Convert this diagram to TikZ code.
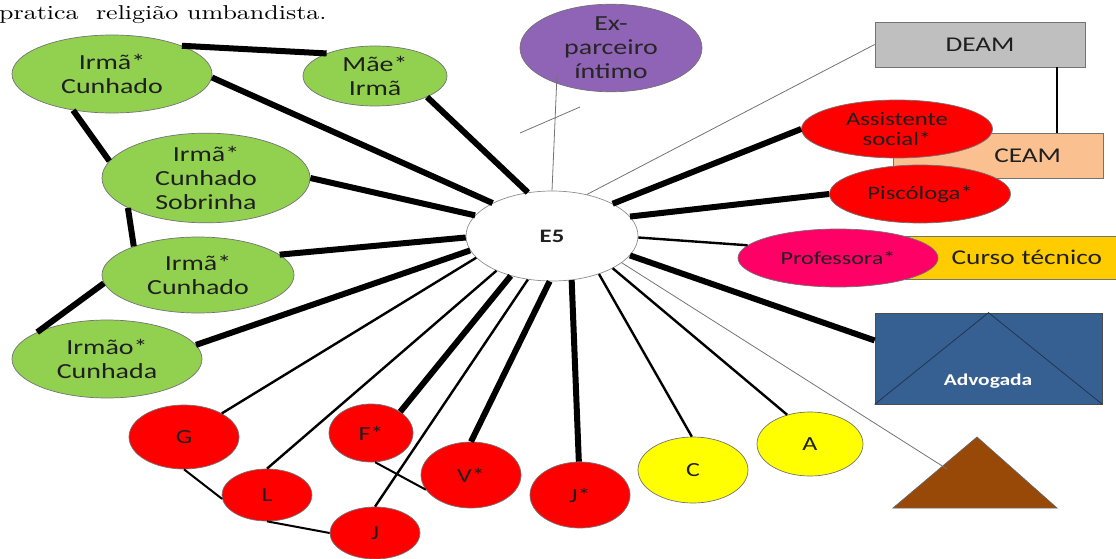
\documentclass[tikz,border=0pt]{standalone}
\usepackage{fontspec}
\newfontfamily\lbl[FakeStretch=1.3]{Carlito}
\newfontfamily\capfont[FakeStretch=1.3]{lmroman10-regular.otf}
\usetikzlibrary{shapes.geometric}

\definecolor{grn}{HTML}{92D050}
\definecolor{lilac}{HTML}{8F63B5}
\definecolor{rd}{HTML}{FF0000}
\definecolor{pinkred}{HTML}{FF0066}
\definecolor{yel}{HTML}{FFFF00}
\definecolor{amber}{HTML}{FFCC00}
\definecolor{peach}{HTML}{FAC090}
\definecolor{silver}{HTML}{BFBFBF}
\definecolor{advblue}{HTML}{376092}
\definecolor{navy}{HTML}{1F3550}
\definecolor{brownish}{HTML}{984807}

\tikzset{
  bub/.style={ellipse, draw=black!55, line width=0.7pt, inner sep=0pt,
    align=center, text=black!88, font=\lbl\fontsize{21.5}{24}\selectfont},
  small/.style={font=\lbl\fontsize{19}{20.5}\selectfont},
  letter/.style={font=\lbl\fontsize{20}{22}\selectfont},
  boxnode/.style={rectangle, draw=black!55, line width=0.7pt, inner sep=0pt,
    text=black!88, font=\lbl\fontsize{21}{24}\selectfont},
  heavy/.style={line width=6pt},
  mid/.style={line width=2.4pt},
  faint/.style={line width=0.8pt, draw=black!55},
}

\begin{document}
\begin{tikzpicture}[x=1pt,y=-1pt]
\useasboundingbox (0,0) rectangle (1116,559);

% caption line above the network
\node[anchor=base west, inner sep=0pt, font=\capfont\fontsize{20}{24}\selectfont] (title)
  at (-1,20) {pratica\ \ religião umbandista.};

% family (green)
\node[bub, fill=grn, minimum width=200pt, minimum height=78pt] (irmaA) at (112,74) {Irmã*\\Cunhado};
\node[bub, fill=grn, minimum width=144pt, minimum height=60pt] (mae) at (375,76) {Mãe*\\Irmã};
\node[bub, fill=grn, minimum width=208pt, minimum height=78pt] (sob) at (206,178) {Irmã*\\Cunhado\\Sobrinha};
\node[bub, fill=grn, minimum width=192pt, minimum height=76pt] (irmaB) at (198,275) {Irmã*\\Cunhado};
\node[bub, fill=grn, minimum width=190pt, minimum height=78pt] (irmao) at (107,359) {Irmão*\\Cunhada};

% former partner
\node[bub, fill=lilac, minimum width=182pt, minimum height=78pt, text=black!85] (ex) at (611,48) {Ex-\\parceiro\\íntimo};
\coordinate (exend) at (557,75);

% centre
\node[bub, fill=white, draw=black!45, minimum width=172pt, minimum height=90pt,
  font=\lbl\bfseries\fontsize{19}{22}\selectfont] (e5) at (552,236) {E5};

% institutions
\node[boxnode, fill=silver, minimum width=210pt, minimum height=45pt] (deam) at (980,44.5) {DEAM};
\node[boxnode, fill=peach, minimum width=210pt, minimum height=45pt, text width=200pt, align=right] (ceam) at (998,155.5) {CEAM\hspace*{37pt}};
\node[boxnode, fill=amber, minimum width=217pt, minimum height=43pt, text width=207pt, align=right] (curso) at (1013.5,257.5) {Curso técnico\hspace*{15pt}};

\node[bub, fill=rd, small, minimum width=191pt, minimum height=58pt] (assist) at (897,129) {Assistente\\social*};
\node[bub, fill=rd, small, minimum width=181pt, minimum height=58pt] (psico) at (920,194) {Piscóloga*};
\node[bub, fill=pinkred, font=\lbl\fontsize{18.5}{20}\selectfont, minimum width=200pt, minimum height=58pt] (prof) at (838,258) {Professora*};

% lawyer
\node[rectangle, draw=black!70, line width=0.7pt, fill=advblue, inner sep=0pt,
  minimum width=227pt, minimum height=91pt] (adv) at (988.5,358.5) {};
\draw[navy, line width=0.8pt] (adv.south west) -- (adv.north) -- (adv.south east);
\node[text=white, font=\lbl\bfseries\fontsize{16.5}{18}\selectfont] (advtext) at (988,381) {Advogada};

% religion
\draw[fill=brownish, draw=black!60, line width=0.7pt] (893,508) -- (977,437) -- (1057,508) -- cycle;
\coordinate (trimark) at (947,469);

% children and others
\node[bub, fill=rd, letter, minimum width=110pt, minimum height=64pt] (G) at (184,437) {G};
\node[bub, fill=rd, letter, minimum width=90pt, minimum height=52pt] (L) at (267,495) {L};
\node[bub, fill=rd, letter, minimum width=90pt, minimum height=52pt] (J) at (375,533) {J};
\node[bub, fill=rd, letter, minimum width=84pt, minimum height=58pt] (F) at (371,433) {F*};
\node[bub, fill=rd, letter, minimum width=100pt, minimum height=66pt] (V) at (471,475) {V*};
\node[bub, fill=rd, letter, minimum width=100pt, minimum height=66pt] (Jstar) at (580,495) {J*};
\node[bub, fill=yel, letter, minimum width=110pt, minimum height=66pt] (C) at (693,470) {C};
\node[bub, fill=yel, letter, minimum width=106pt, minimum height=64pt] (A) at (810,444) {A};

% ties among relatives
\draw[heavy] (irmaA.22) -- (mae.155);
\draw[heavy] (irmaA.223) -- (sob.170);
\draw[heavy] (sob.201) -- (irmaB.156);
\draw[heavy] (irmaB.185) -- (irmao.159);
\draw[mid, line width=2pt] (G.270) -- (L.185);
\draw[mid, line width=2pt] (L.270) -- (J.180);
\draw[mid, line width=2pt] (F.278) -- (V.198);

% ties to E5
\draw[heavy] (irmaA.-2) -- (e5.151);
\draw[heavy] (mae.-22) -- (e5.119);
\draw[heavy] (sob.0) -- (e5.165);
\draw[heavy] (irmaB.14) -- (e5.181);
\draw[heavy] (irmao.9) -- (e5.190);
\draw[mid] (G.32) -- (e5.196);
\draw[mid] (L.90) -- (e5.212);
\draw[heavy] (F.36) -- (e5.224);
\draw[mid] (J.90) -- (e5.241);
\draw[heavy] (V.90) -- (e5.267);
\draw[heavy] (Jstar.92) -- (e5.294);
\draw[mid] (C.92) -- (e5.321);
\draw[mid] (A.128) -- (e5.332);
\draw[faint] (e5.339) -- (trimark);
\draw[heavy] (e5.346) -- (adv.171);
\draw[mid] (e5.359) -- (prof.172);
\draw[heavy] (e5.14) -- (psico.180);
\draw[heavy] (e5.28) -- (assist.180);
\draw[faint] (e5.50) -- (deam.west);
\draw[faint] (e5.90) -- (exend);
\draw[faint] (520,133) -- (580,107);

% DEAM to CEAM
\coordinate (dc) at (1057,100);
\draw[mid] (deam.south -| dc) -- (ceam.north -| dc);
\end{tikzpicture}
\end{document}
